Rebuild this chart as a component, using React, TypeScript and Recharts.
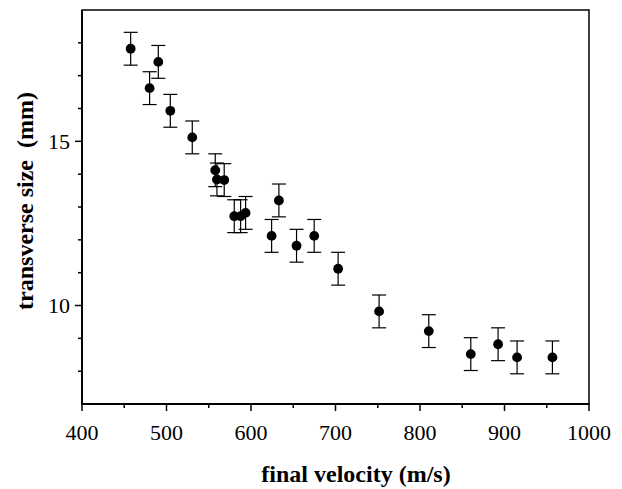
import React from 'react';
import { ScatterChart, Scatter, XAxis, YAxis, ErrorBar, ReferenceArea } from 'recharts';

const velocity = [457.6, 480, 490.3, 504.5, 530.5, 557.7, 559.7, 568.3, 580.2, 587.7, 593.6, 624.4, 633, 653.9, 674.8, 703.1, 751.6, 810.4, 860.1, 892.4, 914.9, 956.7];
const sizeMm = [17.82, 16.62, 17.42, 15.93, 15.12, 14.12, 13.84, 13.82, 12.72, 12.72, 12.82, 12.12, 13.2, 11.82, 12.12, 11.12, 9.82, 9.22, 8.52, 8.82, 8.42, 8.42];
const errMm = [0.5, 0.5, 0.5, 0.5, 0.5, 0.5, 0.5, 0.5, 0.5, 0.5, 0.5, 0.5, 0.5, 0.5, 0.5, 0.5, 0.5, 0.5, 0.5, 0.5, 0.5, 0.5];

const xTicks = [400, 450, 500, 550, 600, 650, 700, 750, 800, 850, 900, 950, 1000];
const xMajor = [400, 500, 600, 700, 800, 900, 1000];
const yTicks = [8, 9, 10, 11, 12, 13, 14, 15, 16, 17, 18];
const yMajor = [10, 15];

const data = velocity.map((v, i) => ({ v, s: sizeMm[i], err: errMm[i] }));

const FONT = '"Liberation Serif", "Times New Roman", serif';

const XTick = (props: any) => {
  const { x, y, payload } = props;
  const major = xMajor.includes(payload.value);
  return (
    <g>
      <line x1={x} x2={x} y1={y} y2={y + (major ? 7 : 4)} stroke="#000" strokeWidth={1.5} />
      {major && (
        <text x={x} y={y + 36} textAnchor="middle" fontFamily={FONT} fontSize={22} fill="#000">
          {payload.value}
        </text>
      )}
    </g>
  );
};

const YTick = (props: any) => {
  const { x, y, payload } = props;
  const major = yMajor.includes(payload.value);
  return (
    <g>
      <line x1={x} x2={x - (major ? 7 : 4)} y1={y} y2={y} stroke="#000" strokeWidth={1.5} />
      {major && (
        <text x={x - 12} y={y + 7.5} textAnchor="end" fontFamily={FONT} fontSize={22} fill="#000">
          {payload.value}
        </text>
      )}
    </g>
  );
};

const Dot = (props: any) => <circle cx={props.cx} cy={props.cy} r={4.9} fill="#000" />;

export default function App() {
  return (
    <div style={{ position: 'absolute', left: 0, top: 0, background: '#fff' }}>
      <ScatterChart width={622} height={489} margin={{ top: 10, right: 33, left: 22, bottom: 45 }}>
        <XAxis
          type="number"
          dataKey="v"
          domain={[400, 1000]}
          ticks={xTicks}
          interval={0}
          height={40}
          tickSize={0}
          tickMargin={0}
          tickLine={false}
          tick={<XTick />}
          axisLine={{ stroke: '#000', strokeWidth: 1.8 }}
          allowDataOverflow
          label={{
            content: () => (
              <text x={356} y={482} textAnchor="middle" fontFamily={FONT} fontSize={24} fontWeight="bold" fill="#000">
                final velocity (m/s)
              </text>
            ),
          }}
        />
        <YAxis
          type="number"
          dataKey="s"
          domain={[7, 19]}
          ticks={yTicks}
          interval={0}
          width={60}
          tickSize={0}
          tickMargin={0}
          tickLine={false}
          tick={<YTick />}
          axisLine={{ stroke: '#000', strokeWidth: 1.8 }}
          allowDataOverflow
          label={{
            content: () => (
              <text
                x={33}
                y={201}
                transform="rotate(-90, 33, 201)"
                textAnchor="middle"
                fontFamily={FONT}
                fontSize={24}
                fontWeight="bold"
                fill="#000"
                style={{ whiteSpace: 'pre' }}
              >
                {'transverse size  (mm)'}
              </text>
            ),
          }}
        />
        <ReferenceArea x1={400} x2={1000} y1={7} y2={19} fill="none" stroke="#000" strokeWidth={1.5} ifOverflow="visible" />
        <Scatter data={data} shape={<Dot />} isAnimationActive={false}>
          <ErrorBar dataKey="err" direction="y" width={7} stroke="#000" strokeWidth={1.2} />
        </Scatter>
      </ScatterChart>
    </div>
  );
}
